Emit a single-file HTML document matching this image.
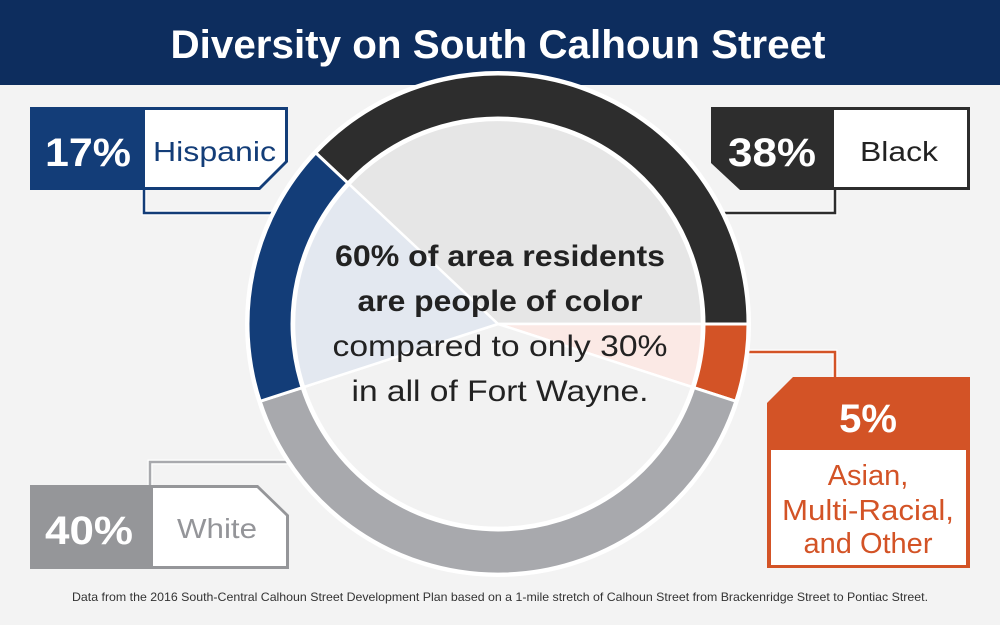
<!DOCTYPE html>
<html><head><meta charset="utf-8"><style>
html,body{margin:0;padding:0;background:#f3f3f3;}
svg{display:block;font-family:"Liberation Sans",sans-serif;}
</style></head><body>
<svg width="1000" height="625" viewBox="0 0 1000 625" xmlns="http://www.w3.org/2000/svg">
<rect width="1000" height="625" fill="#f3f3f3"/>
<rect width="1000" height="85" fill="#0d2d5e"/>
<text x="498" y="58" text-anchor="middle" font-size="40" font-weight="bold" fill="#fff" textLength="655" lengthAdjust="spacingAndGlyphs">Diversity on South Calhoun Street</text>

<!-- connectors -->
<g fill="none" stroke-linejoin="miter">
<polyline points="144,190 144,213 280,213" stroke="#fff" stroke-width="5"/>
<polyline points="144,190 144,213 280,213" stroke="#133d78" stroke-width="2.5"/>
<polyline points="835,190 835,213 716,213" stroke="#fff" stroke-width="5"/>
<polyline points="835,190 835,213 716,213" stroke="#2d2d2d" stroke-width="2.5"/>
<polyline points="745,352 835,352 835,377" stroke="#fff" stroke-width="5"/>
<polyline points="745,352 835,352 835,377" stroke="#d35326" stroke-width="2.5"/>
<polyline points="150,485 150,462 292,462" stroke="#fff" stroke-width="5"/>
<polyline points="150,485 150,462 292,462" stroke="#a8a9ad" stroke-width="2.5"/>
</g>

<!-- donut -->
<circle cx="498" cy="324" r="253" fill="#fff"/>
<g stroke="#fff" stroke-width="3" stroke-linejoin="round">
<path d="M315.75,152.9 A250,250 0 0 1 748,324 L704,324 A206,206 0 0 0 347.8,183 Z" fill="#2d2d2d"/>
<path d="M748,324 A250,250 0 0 1 735.8,401.25 L693.9,387.65 A206,206 0 0 0 704,324 Z" fill="#d35326"/>
<path d="M735.8,401.25 A250,250 0 0 1 260.2,401.25 L302.1,387.65 A206,206 0 0 0 693.9,387.65 Z" fill="#a8a9ad"/>
<path d="M260.2,401.25 A250,250 0 0 1 315.75,152.9 L347.8,183 A206,206 0 0 0 302.1,387.65 Z" fill="#133d78"/>
</g>
<g stroke="#fff" stroke-width="2.5" stroke-linejoin="round">
<path d="M498,324 L349.2,184.3 A204,204 0 0 1 702,324 Z" fill="#e6e6e6"/>
<path d="M498,324 L702,324 A204,204 0 0 1 692,387 Z" fill="#fbe9e5"/>
<path d="M498,324 L692,387 A204,204 0 0 1 304,387 Z" fill="#f2f2f2"/>
<path d="M498,324 L304,387 A204,204 0 0 1 349.2,184.3 Z" fill="#e3e8f0"/>
</g>

<g text-anchor="middle" font-size="30" fill="#222">
<text x="500" y="266" font-weight="bold" textLength="330" lengthAdjust="spacingAndGlyphs">60% of area residents</text>
<text x="500" y="311" font-weight="bold" textLength="285" lengthAdjust="spacingAndGlyphs">are people of color</text>
<text x="500" y="356" textLength="335" lengthAdjust="spacingAndGlyphs">compared to only 30%</text>
<text x="500" y="401" textLength="297" lengthAdjust="spacingAndGlyphs">in all of Fort Wayne.</text>
</g>

<!-- Hispanic -->
<polygon points="30,107 288,107 288,162 260,190 30,190" fill="#133d78"/>
<polygon points="145,110 285,110 285,161 259,187 145,187" fill="#fff"/>
<text x="45" y="166" font-size="40" font-weight="bold" fill="#fff" textLength="86" lengthAdjust="spacingAndGlyphs">17%</text>
<text x="153" y="161" font-size="28" fill="#133d78" textLength="123" lengthAdjust="spacingAndGlyphs">Hispanic</text>

<!-- Black -->
<polygon points="711,107 970,107 970,190 740,190 711,163" fill="#2d2d2d"/>
<rect x="834" y="110" width="133" height="77" fill="#fff"/>
<text x="728" y="166" font-size="40" font-weight="bold" fill="#fff" textLength="88" lengthAdjust="spacingAndGlyphs">38%</text>
<text x="899" y="161" text-anchor="middle" font-size="28" fill="#222" textLength="78" lengthAdjust="spacingAndGlyphs">Black</text>

<!-- Asian -->
<polygon points="767,403 793,377 970,377 970,568 767,568" fill="#d35326"/>
<rect x="771" y="450" width="195" height="115" fill="#fff"/>
<text x="868" y="432" text-anchor="middle" font-size="40" font-weight="bold" fill="#fff">5%</text>
<g text-anchor="middle" font-size="29" fill="#d35326">
<text x="868" y="485">Asian,</text>
<text x="868" y="520" textLength="172" lengthAdjust="spacingAndGlyphs">Multi-Racial,</text>
<text x="868" y="553">and Other</text>
</g>

<!-- White -->
<polygon points="30,485 258,485 289,515 289,569 30,569" fill="#959699"/>
<polygon points="153,488 257,488 286,516 286,566 153,566" fill="#fff"/>
<text x="45" y="544" font-size="40" font-weight="bold" fill="#fff" textLength="88" lengthAdjust="spacingAndGlyphs">40%</text>
<text x="177" y="538" font-size="28" fill="#949599" textLength="80" lengthAdjust="spacingAndGlyphs">White</text>

<text x="500" y="601" text-anchor="middle" font-size="12" fill="#333" textLength="856" lengthAdjust="spacingAndGlyphs">Data from the 2016 South-Central Calhoun Street Development Plan based on a 1-mile stretch of Calhoun Street from Brackenridge Street to Pontiac Street.</text>
</svg>
</body></html>
